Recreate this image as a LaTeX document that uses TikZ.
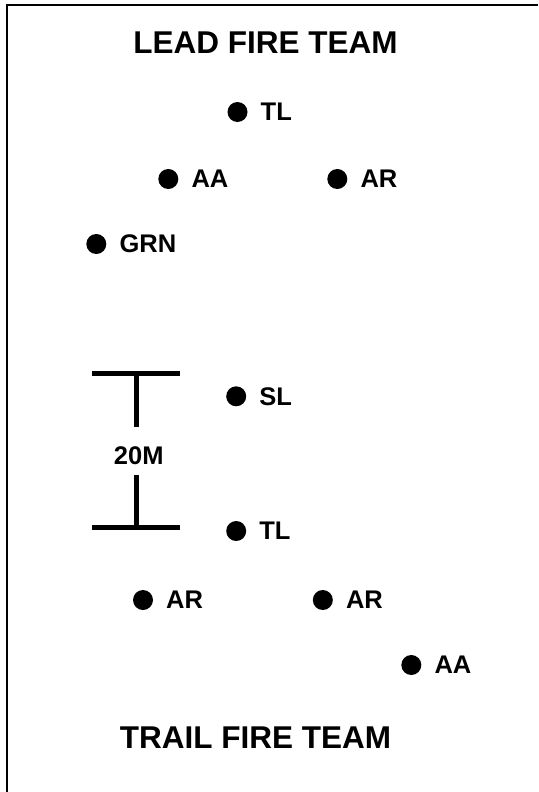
\documentclass[tikz,border=0pt]{standalone}
\usepackage{fontspec}
\setmainfont{Liberation Sans}
\begin{document}
\begin{tikzpicture}[x=1pt,y=-1pt,
  soldier/.style={circle,fill=black,draw=none,inner sep=0pt,minimum size=20pt},
  lbl/.style={anchor=west,inner sep=0pt,font=\fontsize{25.5}{25.5}\selectfont\bfseries},
  title/.style={inner sep=0pt,font=\fontsize{31.5}{31.5}\selectfont\bfseries},
  bar/.style={line width=5pt},
  frame/.style={line width=2.6pt}]
\useasboundingbox (0,0) rectangle (538,792);
% frame (left and top edges visible)
\coordinate (fbl) at (7,792);
\coordinate (ftl) at (7,5);
\coordinate (ftr) at (538,5);
\draw[frame] (fbl) -- (ftl) -- (ftr);
% titles
\node[title] (lead) at (265.5,43) {LEAD FIRE TEAM};
\node[title] (trail) at (255.5,737.5) {TRAIL FIRE TEAM};
% lead fire team
\node[soldier] (tl1) at (237.5,112) {};
\node[lbl] (tl1l) at ([xshift=23pt]tl1.center) {TL};
\node[soldier] (aa1) at (168.3,179) {};
\node[lbl] (aa1l) at ([xshift=23pt]aa1.center) {AA};
\node[soldier] (ar1) at (337.3,179) {};
\node[lbl] (ar1l) at ([xshift=23pt]ar1.center) {AR};
\node[soldier] (grn) at (96.3,244) {};
\node[lbl] (grnl) at ([xshift=23pt]grn.center) {GRN};
% squad leader
\node[soldier] (sl) at (236.2,396.3) {};
\node[lbl] (sll) at ([xshift=23pt]sl.center) {SL};
% trail fire team
\node[soldier] (tl2) at (236.2,531) {};
\node[lbl] (tl2l) at ([xshift=23pt]tl2.center) {TL};
\node[soldier] (ar2) at (143,600) {};
\node[lbl] (ar2l) at ([xshift=23pt]ar2.center) {AR};
\node[soldier] (ar3) at (322.8,600) {};
\node[lbl] (ar3l) at ([xshift=23pt]ar3.center) {AR};
\node[soldier] (aa2) at (411.3,665) {};
\node[lbl] (aa2l) at ([xshift=23pt]aa2.center) {AA};
% distance marker
\node[inner sep=0pt,font=\fontsize{25.5}{25.5}\selectfont\bfseries] (dist) at (138.7,456) {20M};
\coordinate (b1l) at (92,373.3);
\coordinate (b1r) at (180,373.3);
\coordinate (s1t) at (136.4,373.3);
\coordinate (s1b) at (136.4,427);
\coordinate (s2t) at (136.4,475);
\coordinate (s2b) at (136.4,527);
\coordinate (b2l) at (92,527);
\coordinate (b2r) at (180,527);
\draw[bar] (b1l) -- (b1r);
\draw[bar] (s1t) -- (s1b);
\draw[bar] (s2t) -- (s2b);
\draw[bar] (b2l) -- (b2r);
\end{tikzpicture}
\end{document}
